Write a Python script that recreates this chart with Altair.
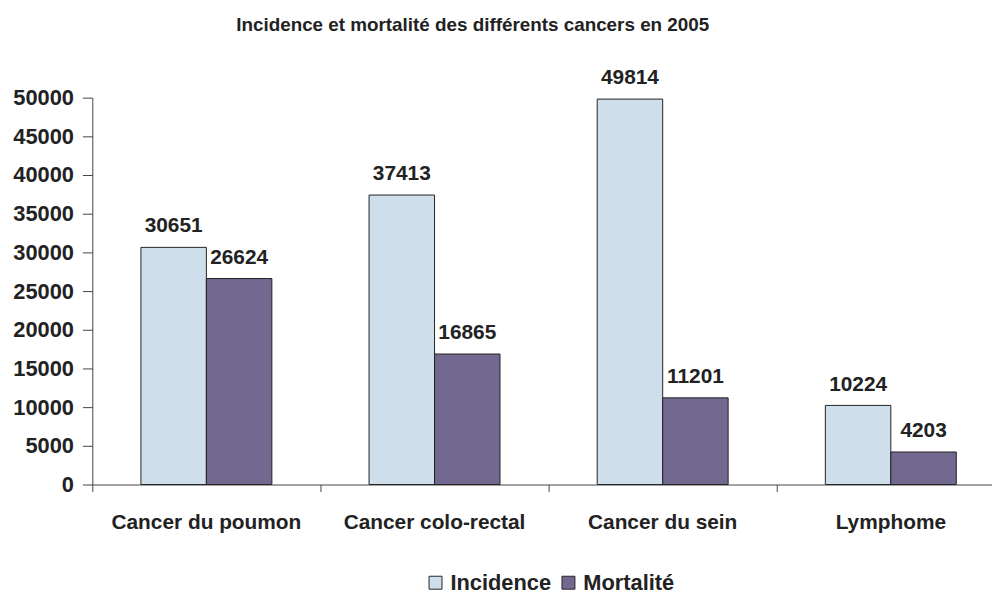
import altair as alt
import pandas as pd

categories = ["Cancer du poumon", "Cancer colo-rectal", "Cancer du sein", "Lymphome"]
series = ["Incidence", "Mortalité"]
incidence = [30651, 37413, 49814, 10224]
mortalite = [26624, 16865, 11201, 4203]
colors = ["#CEDFEB", "#726890"]
y_ticks = [0, 5000, 10000, 15000, 20000, 25000, 30000, 35000, 40000, 45000, 50000]

rows = []
for c, i, m in zip(categories, incidence, mortalite):
    rows.append({"cat": c, "serie": series[0], "val": i})
    rows.append({"cat": c, "serie": series[1], "val": m})
df = pd.DataFrame(rows)

FONT = "Liberation Sans"

x_enc = alt.X(
    "cat:N",
    sort=categories,
    title=None,
    scale=alt.Scale(range=[0, 920], paddingInner=0.426, paddingOuter=0.213),
    axis=alt.Axis(
        labelAngle=0,
        bandPosition=-0.371,
        labelOffset=0,
        labelLimit=400,
        tickSize=7,
        labelPadding=20,
        labelFontSize=21,
        labelFontWeight="bold",
        labelFont=FONT,
        labelColor="#222222",
        domainColor="#444444",
        tickColor="#444444",
    ),
)
xoff = alt.XOffset("serie:N", sort=series, scale=alt.Scale(paddingInner=0, paddingOuter=0))
y_enc = alt.Y(
    "val:Q",
    title=None,
    scale=alt.Scale(domain=[0, 50000], nice=False),
    axis=alt.Axis(
        values=y_ticks,
        tickCount=20,
        format="d",
        labelOverlap=False,
        grid=False,
        tickSize=10,
        labelPadding=9,
        labelFontSize=22,
        labelFontWeight="bold",
        labelFont=FONT,
        labelColor="#222222",
        domainColor="#444444",
        tickColor="#444444",
    ),
)

bars = alt.Chart(df).mark_bar(stroke="#222222", strokeWidth=1).encode(
    x=x_enc,
    xOffset=xoff,
    y=y_enc,
    color=alt.Color(
        "serie:N",
        sort=series,
        scale=alt.Scale(domain=series, range=colors),
        legend=alt.Legend(
            title=None,
            orient="none",
            legendX=335,
            legendY=478,
            direction="horizontal",
            symbolType="square",
            symbolSize=170,
            symbolStrokeColor="#222222",
            symbolStrokeWidth=1,
            labelFontSize=22,
            labelFontWeight="bold",
            labelFont=FONT,
            labelColor="#222222",
            columnPadding=6,
            labelOffset=4,
        ),
    ),
)

labels = alt.Chart(df).mark_text(
    dy=-15, baseline="alphabetic", fontSize=21, fontWeight="bold", font=FONT, color="#222222"
).encode(
    x=x_enc,
    xOffset=xoff,
    y=y_enc,
    text="val:Q",
)

chart = (
    alt.layer(bars, labels)
    .properties(
        width=907,
        height=390,
        title=alt.TitleParams(
            "Incidence et mortalité des différents cancers en 2005",
            fontSize=19,
            fontWeight="bold",
            font=FONT,
            color="#222222",
            anchor="middle",
            dx=-70,
            offset=33,
        ),
        autosize=alt.AutoSizeParams(type="none"),
        padding={"left": 85, "top": 88, "right": 0, "bottom": 109},
    )
    .configure_view(stroke=None)
)

chart.save("out.html", embed_options={"renderer": "svg", "actions": False})
